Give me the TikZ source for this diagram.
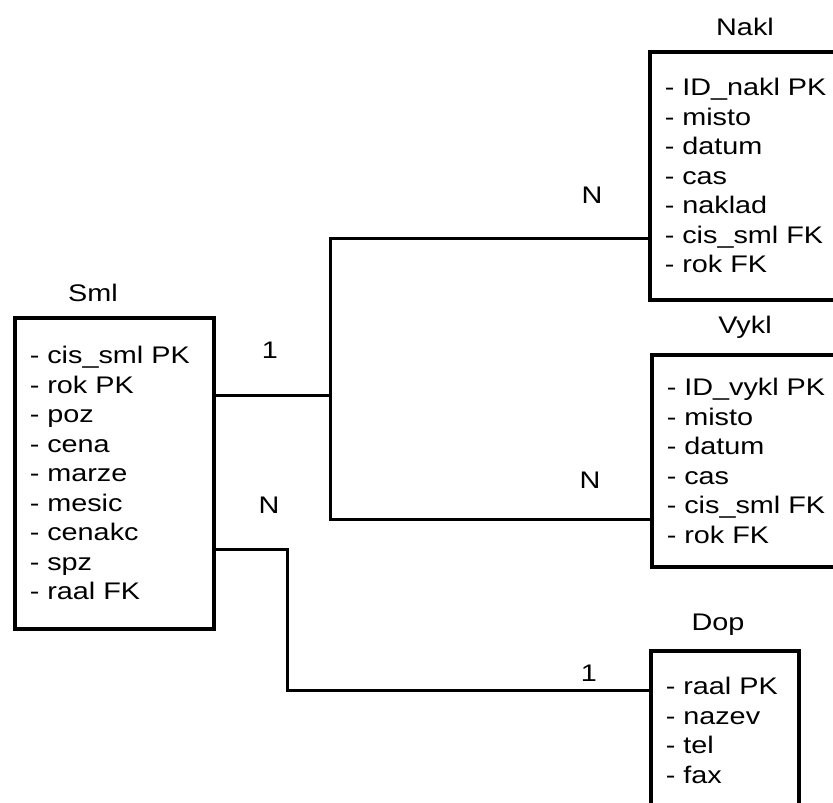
\documentclass[tikz,border=0pt]{standalone}
\usepackage{fontspec}
\setmainfont{Liberation Sans}[FakeStretch=1.2]
\usepackage{tikz}
\usetikzlibrary{positioning, calc}

\begin{document}
\begin{tikzpicture}[
			x=1pt, y=-1pt,
			entity/.style={rectangle, draw, line width=3.5pt, anchor=north west, align=left, inner xsep=15pt, inner ysep=0pt, font=\fontsize{24}{29.5}\selectfont},
			title/.style={font=\fontsize{24}{26}\selectfont},
			card/.style={font=\fontsize{24}{26}\selectfont},
			line/.style={line width=3pt}
			]
			\useasboundingbox (0,0) rectangle (833,803);
			\clip (0,0) rectangle (833,803);
			
			% Nodes
			\node[entity, minimum width=199pt, minimum height=311pt, text width=169pt] (sml) at (13,316) {- cis\_sml PK\\- rok PK\\- poz\\- cena\\- marze\\- mesic\\- cenakc\\- spz\\- raal FK};
			\node[title] (smlt) at (93,293) {Sml};
			
			\node[entity, minimum width=220pt, minimum height=248pt, text width=190pt] (nakl) at (648,50) {- ID\_nakl PK\\- misto\\- datum\\- cas\\- naklad\\- cis\_sml FK\\- rok FK};
			\node[title] (naklt) at (745,27) {Nakl};
			
			\node[entity, minimum width=220pt, minimum height=212pt, text width=190pt] (vykl) at (650,353) {- ID\_vykl PK\\- misto\\- datum\\- cas\\- cis\_sml FK\\- rok FK};
			\node[title] (vyklt) at (745,327) {Vykl};
			
			\node[entity, minimum width=148pt, minimum height=159pt, text width=118pt] (dop) at (649,649) {- raal PK\\- nazev\\- tel\\- fax};
			\node[title] (dopt) at (718,625) {Dop};
			
			% Junctions
			\coordinate (j1) at (330,395);
			\coordinate (jn) at (330,238);
			\coordinate (jv) at (330,519);
			\coordinate (d1) at (287,549);
			\coordinate (d2) at (287,690);
			
			% Lines
			\draw[line] (sml.east |- j1) -- (j1);
			\draw[line] (nakl.west |- jn) -- (jn) -- (jv) -- (vykl.west |- jv);
			\draw[line] (sml.east |- d1) -- (d1) -- (d2) -- (dop.west |- d2);
			
			% Cardinalities
			\node[card] (c1) at (270,350) {1};
			\node[card] (cn) at (592,195) {N};
			\node[card] (cv) at (590,480) {N};
			\node[card] (cs) at (269,505) {N};
			\node[card] (cd) at (589,673) {1};
			
		\end{tikzpicture}
\end{document}
